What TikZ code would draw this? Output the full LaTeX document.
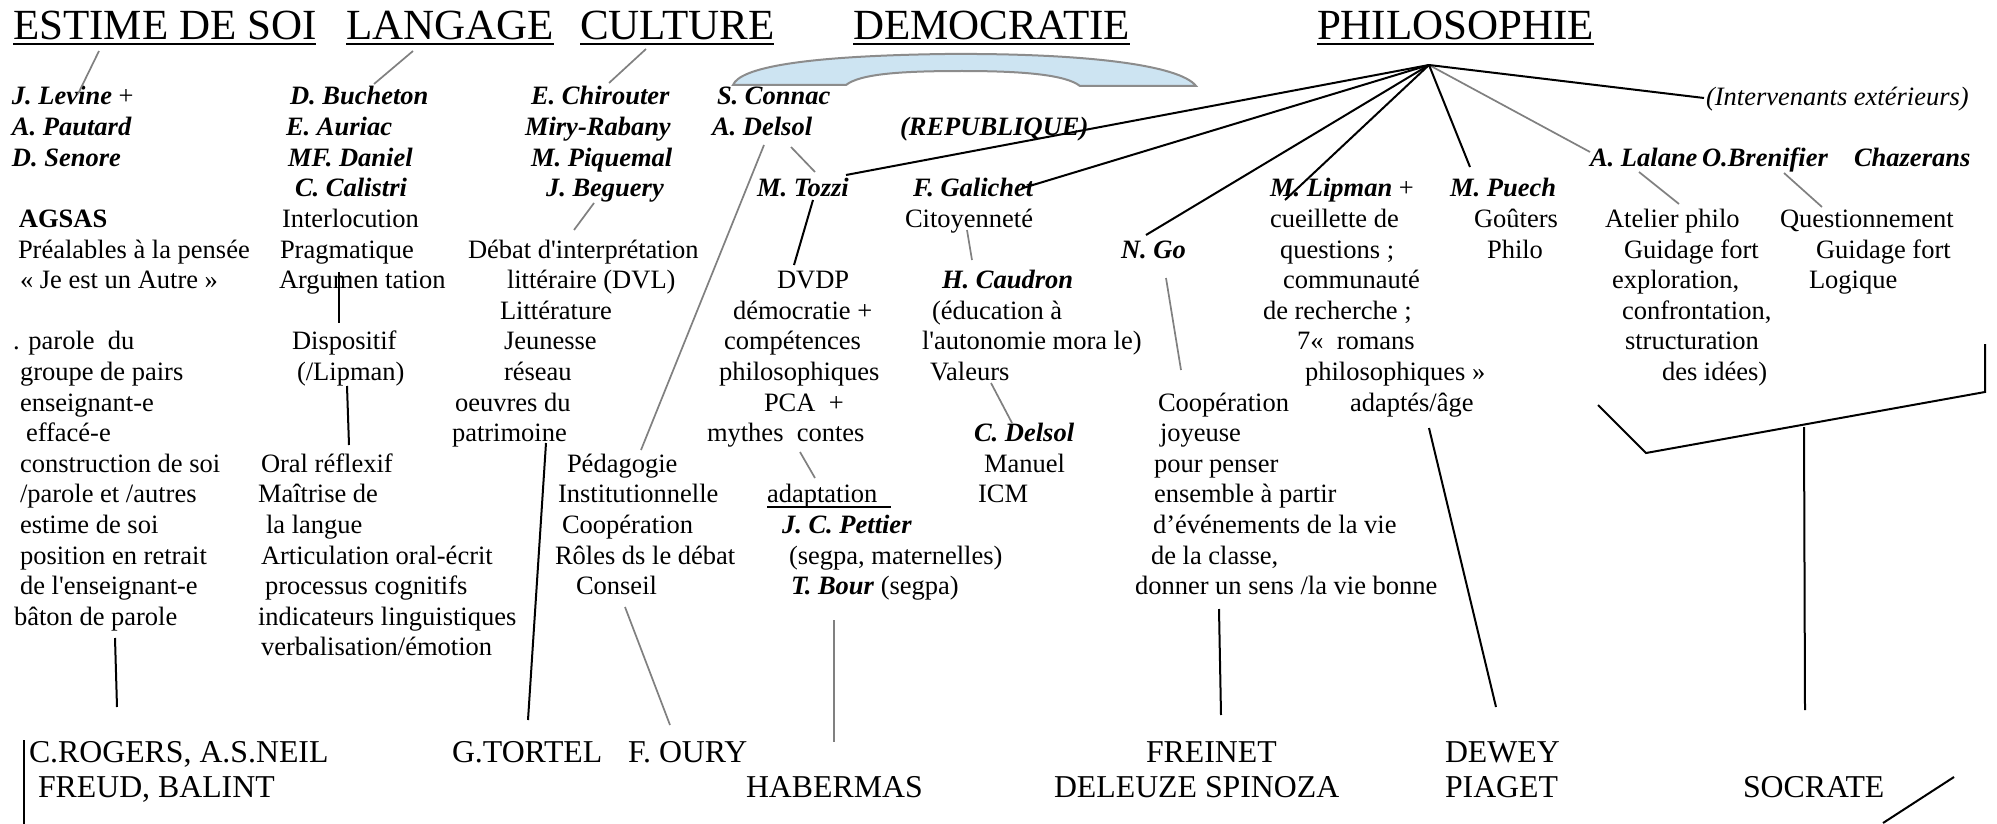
\documentclass[tikz,border=0pt]{standalone}
\usepackage{fontspec}
\setmainfont{Liberation Serif}[Ligatures=TeXOff]
\definecolor{lgray}{RGB}{128,128,128}
\definecolor{archfill}{RGB}{205,228,242}
\definecolor{archline}{RGB}{140,140,140}
\newcommand\bi[1]{\textbf{\textit{#1}}}
\newcommand\mytx[5][tx]{\node[#1] (#2) at (#3,#4) {#5};}
\tikzset{
 tx/.style={anchor=base west, inner sep=0pt, outer sep=0pt, font=\fontsize{26.5}{30}\selectfont},
 nm/.style={tx, font=\fontsize{26.5}{30}\selectfont\bfseries\itshape},
 ttl/.style={anchor=base west, inner sep=0pt, outer sep=0pt, font=\fontsize{43}{48}\selectfont},
 big/.style={anchor=base west, inner sep=0pt, outer sep=0pt, font=\fontsize{31.8}{36}\selectfont},
 bl/.style={draw=black, line width=2pt},
 gl/.style={draw=lgray, line width=1.7pt},
 ul/.style={draw=black, line width=2.2pt},
}
\begin{document}
\begin{tikzpicture}[x=1pt,y=-1pt]
\fill[white] (0,0) rectangle (1997,824);
\useasboundingbox (0,0) rectangle (1997,824);
% arch
\draw[fill=archfill, draw=archline, line width=2pt]
 (733,85) .. controls (740,68) and (800,56) .. (945,54)
 .. controls (1085,53) and (1180,65) .. (1196,86) -- (1080,86)
 .. controls (1066,75) and (1025,71) .. (962,71)
 .. controls (900,71) and (860,74) .. (846,85) -- cycle;
% titles
\mytx[ttl]{tA}{13}{40}{ESTIME DE SOI}
\mytx[ttl]{tB}{346}{40}{LANGAGE}
\mytx[ttl]{tC}{580}{40}{CULTURE}
\mytx[ttl]{tD}{853}{40}{DEMOCRATIE}
\mytx[ttl]{tE}{1317}{40}{PHILOSOPHIE}
\foreach \n in {tA,tB,tC,tD,tE} \draw[ul] ([yshift=-4pt]\n.base west) -- ([yshift=-4pt]\n.base east);
% column A
\mytx{a1}{12}{105}{\bi{J. Levine} +}
\mytx[nm]{a2}{12}{135.6}{A. Pautard}
\mytx[nm]{a3}{12}{166.2}{D. Senore}
\mytx{a5}{19}{227.4}{\textbf{AGSAS}}
\mytx{a6}{18}{258}{Préalables à la pensée}
\mytx{a7}{20}{288.6}{« Je est un Autre »}
\mytx{a9}{13}{349.8}{. parole~~du}
\mytx{a10}{20}{380.4}{groupe de pairs}
\mytx{a11}{20}{411}{enseignant-e}
\mytx{a12}{26}{441.6}{effacé-e}
\mytx{a13}{20}{472.2}{construction de soi}
\mytx{a14}{20}{502.8}{/parole et /autres}
\mytx{a15}{20}{533.4}{estime de soi}
\mytx{a16}{20}{564}{position en retrait}
\mytx{a17}{20}{594.6}{de l'enseignant-e}
\mytx{a18}{14}{625.2}{bâton de parole}
% column B
\mytx[nm]{b1}{290}{105}{D. Bucheton}
\mytx[nm]{b2}{286}{135.6}{E. Auriac}
\mytx[nm]{b3}{288}{166.2}{MF. Daniel}
\mytx[nm]{b4}{295}{196.8}{C. Calistri}
\mytx{b5}{282}{227.4}{Interlocution}
\mytx{b6}{280}{258}{Pragmatique}
\mytx{b7}{279}{288.6}{Argumen tation}
\mytx{b9}{292}{349.8}{Dispositif}
\mytx{b10}{297}{380.4}{(/Lipman)}
\mytx{b13}{261}{472.2}{Oral réflexif}
\mytx{b14}{258}{502.8}{Maîtrise de}
\mytx{b15}{266}{533.4}{la langue}
\mytx{b16}{261}{564}{Articulation oral-écrit}
\mytx{b17}{265}{594.6}{processus cognitifs}
\mytx{b18}{258}{625.2}{indicateurs linguistiques}
\mytx{b19}{261}{655.8}{verbalisation/émotion}
% column C
\mytx[nm]{c1}{531}{105}{E. Chirouter}
\mytx[nm]{c2}{525}{135.6}{Miry-Rabany}
\mytx[nm]{c3}{531}{166.2}{M. Piquemal}
\mytx[nm]{c4}{546}{196.8}{J. Beguery}
\mytx{c6}{468}{258}{Débat d'interprétation}
\mytx{c7}{507}{288.6}{littéraire (DVL)}
\mytx{c8}{500}{319.2}{Littérature}
\mytx{c9}{504}{349.8}{Jeunesse}
\mytx{c10}{504}{380.4}{réseau}
\mytx{c11}{455}{411}{oeuvres du}
\mytx{c12}{452}{441.6}{patrimoine}
% column D
\mytx{d13}{567}{472.2}{Pédagogie}
\mytx{d14}{558}{502.8}{Institutionnelle}
\mytx{d15}{562}{533.4}{Coopération}
\mytx{d16}{555}{564}{Rôles ds le débat}
\mytx{d17}{576}{594.6}{Conseil}
% column E
\mytx[nm]{e1}{717}{105}{S. Connac}
\mytx[nm]{e2}{712}{135.6}{A. Delsol}
\mytx[nm]{e2r}{900}{135.6}{(REPUBLIQUE)}
\mytx[nm]{e4}{757}{196.8}{M. Tozzi}
\mytx[nm]{e4g}{913}{196.8}{F. Galichet}
\mytx{e5g}{905}{227.4}{Citoyenneté}
\mytx{e7}{777}{288.6}{DVDP}
\mytx[nm]{e7g}{942}{288.6}{H. Caudron}
\mytx{e8}{733}{319.2}{démocratie +}
\mytx{e8g}{932}{319.2}{(éducation à}
\mytx{e9}{724}{349.8}{compétences}
\mytx{e9g}{922}{349.8}{l'autonomie mora le)}
\mytx{e10}{719}{380.4}{philosophiques}
\mytx{e10g}{930}{380.4}{Valeurs}
\mytx{e11}{764}{411}{PCA~~+}
\mytx{e12}{707}{441.6}{mythes~~contes}
\mytx[nm]{e12g}{974}{441.6}{C. Delsol}
\mytx{e13g}{984}{472.2}{Manuel}
\mytx{e14}{767}{502.8}{adaptation}
\mytx{e14g}{978}{502.8}{ICM}
\mytx[nm]{e15}{782}{533.4}{J. C. Pettier}
\mytx{e16}{789}{564}{(segpa, maternelles)}
\mytx{e17}{791}{594.6}{\bi{T. Bour} (segpa)}
\draw[ul] ([yshift=-4pt]e14.base west) -- ([xshift=14pt,yshift=-4pt]e14.base east);
% column F
\mytx[nm]{f6}{1121}{258}{N. Go}
\mytx{f11}{1158}{411}{Coopération}
\mytx{f12}{1160}{441.6}{joyeuse}
\mytx{f13}{1154}{472.2}{pour penser}
\mytx{f14}{1154}{502.8}{ensemble à partir}
\mytx{f15}{1153}{533.4}{d’événements de la vie}
\mytx{f16}{1151}{564}{de la classe,}
\mytx{f17}{1135}{594.6}{donner un sens /la vie bonne}
% column G
\mytx{g4}{1270}{196.8}{\bi{M. Lipman} +}
\mytx{g5}{1270}{227.4}{cueillette de}
\mytx{g6}{1280}{258}{questions ;}
\mytx{g7}{1283}{288.6}{communauté}
\mytx{g8}{1263}{319.2}{de recherche ;}
\mytx{g9}{1297}{349.8}{7«~~romans}
\mytx{g10}{1305}{380.4}{philosophiques »}
\mytx{g11}{1350}{411}{adaptés/âge}
% column H
\mytx[nm]{h4}{1450}{196.8}{M. Puech}
\mytx{h5}{1474}{227.4}{Goûters}
\mytx{h6}{1487}{258}{Philo}
% columns I, J
\mytx[tx,font=\fontsize{26.5}{30}\selectfont\itshape]{iext}{1706}{106}{(Intervenants extérieurs)}
\mytx[nm]{i3}{1590}{166.2}{A. Lalane}
\mytx[nm]{j3}{1702}{166.2}{O.Brenifier}
\mytx[nm]{k3}{1854}{166.2}{Chazerans}
\mytx{i5}{1605}{227.4}{Atelier philo}
\mytx{i6}{1624}{258}{Guidage fort}
\mytx{i7}{1612}{288.6}{exploration,}
\mytx{i8}{1622}{319.2}{confrontation,}
\mytx{i9}{1625}{349.8}{structuration}
\mytx{i10}{1662}{380.4}{des idées)}
\mytx{j5}{1780}{227.4}{Questionnement}
\mytx{j6}{1816}{258}{Guidage fort}
\mytx{j7}{1809}{288.6}{Logique}
% bottom references
\mytx[big]{r1}{29}{762}{C.ROGERS, A.S.NEIL}
\mytx[big]{r2}{38}{797}{FREUD, BALINT}
\mytx[big]{r3}{452}{762}{G.TORTEL}
\mytx[big]{r4}{628}{762}{F. OURY}
\mytx[big]{r5}{746}{797}{HABERMAS}
\mytx[big]{r6}{1146}{762}{FREINET}
\mytx[big]{r7}{1054}{797}{DELEUZE SPINOZA}
\mytx[big]{r8}{1445}{762}{DEWEY}
\mytx[big]{r9}{1445}{797}{PIAGET}
\mytx[big]{r10}{1743}{797}{SOCRATE}
% connector end points
\coordinate (hub) at (1429,65);
\coordinate (pA1) at (99,51);   \coordinate (pA2) at (78,94);
\coordinate (pB1) at (413,51);  \coordinate (pB2) at (374,84);
\coordinate (pC1) at (646,49);  \coordinate (pC2) at (609,83);
\coordinate (pC3) at (594,203); \coordinate (pC4) at (574,230);
\coordinate (pE1) at (764,145); \coordinate (pE2) at (641,450);
\coordinate (pE3) at (791,147); \coordinate (pE4) at (815,172);
\coordinate (pE5) at (967,230); \coordinate (pE6) at (972,260);
\coordinate (pE7) at (991,383); \coordinate (pE8) at (1012,423);
\coordinate (pE9) at (800,452); \coordinate (pE10) at (815,478);
\coordinate (pD1) at (625,607); \coordinate (pD2) at (670,725);
\coordinate (pE11) at (834,620); \coordinate (pE12) at (834,742);
\coordinate (pF1) at (1166,278); \coordinate (pF2) at (1181,370);
\coordinate (pI1) at (1590,152);
\coordinate (pI2) at (1639,172); \coordinate (pI3) at (1679,204);
\coordinate (pJ1) at (1784,173); \coordinate (pJ2) at (1822,207);
\coordinate (qB1) at (339,272); \coordinate (qB2) at (339,323);
\coordinate (qB3) at (347,386); \coordinate (qB4) at (349,445);
\coordinate (qC1) at (546,443); \coordinate (qC2) at (528,720);
\coordinate (qA1) at (115,638); \coordinate (qA2) at (117,707);
\coordinate (qE1) at (813,200); \coordinate (qE2) at (794,265);
\coordinate (qT) at (846,175);  \coordinate (qG) at (1023,188);
\coordinate (qN) at (1146,235); \coordinate (qL) at (1285,200);
\coordinate (qP) at (1470,167); \coordinate (qX) at (1704,98);
\coordinate (qF1) at (1219,609); \coordinate (qF2) at (1221,715);
\coordinate (qG1) at (1429,428); \coordinate (qG2) at (1496,707);
\coordinate (k1) at (1598,405); \coordinate (k2) at (1646,453);
\coordinate (k3) at (1985,392); \coordinate (k4) at (1985,344);
\coordinate (k5) at (1804,427); \coordinate (k6) at (1805,710);
\coordinate (z1) at (1954,777); \coordinate (z2) at (1883,823);
\coordinate (y1) at (24,740);   \coordinate (y2) at (24,824);
% gray connectors
\draw[gl] (pA1) -- (pA2);
\draw[gl] (pB1) -- (pB2);
\draw[gl] (pC1) -- (pC2);
\draw[gl] (pC3) -- (pC4);
\draw[gl] (pE1) -- (pE2);
\draw[gl] (pE3) -- (pE4);
\draw[gl] (pE5) -- (pE6);
\draw[gl] (pE7) -- (pE8);
\draw[gl] (pE9) -- (pE10);
\draw[gl] (pD1) -- (pD2);
\draw[gl] (pE11) -- (pE12);
\draw[gl] (pF1) -- (pF2);
\draw[gl] (hub) -- (pI1);
\draw[gl] (pI2) -- (pI3);
\draw[gl] (pJ1) -- (pJ2);
% black connectors
\draw[bl] (qB1) -- (qB2);
\draw[bl] (qB3) -- (qB4);
\draw[bl] (qC1) -- (qC2);
\draw[bl] (qA1) -- (qA2);
\draw[bl] (qE1) -- (qE2);
\draw[bl] (hub) -- (qT);
\draw[bl] (hub) -- (qG);
\draw[bl] (hub) -- (qN);
\draw[bl] (hub) -- (qL);
\draw[bl] (hub) -- (qP);
\draw[bl] (hub) -- (qX);
\draw[bl] (qF1) -- (qF2);
\draw[bl] (qG1) -- (qG2);
\draw[bl] (k1) -- (k2) -- (k3) -- (k4);
\draw[bl] (k5) -- (k6);
\draw[bl] (z1) -- (z2);
\draw[bl] (y1) -- (y2);
\end{tikzpicture}
\end{document}
